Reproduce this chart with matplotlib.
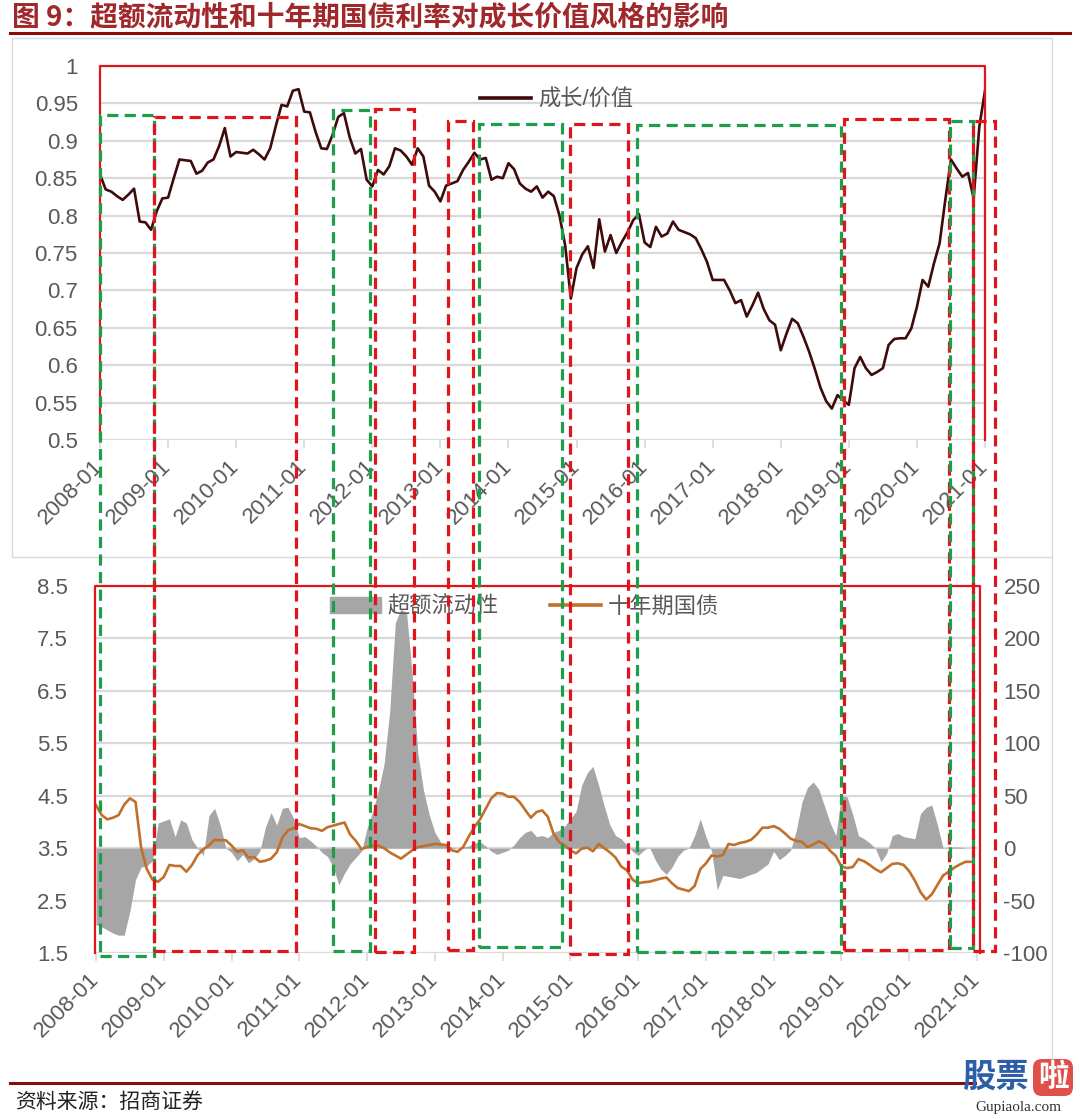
import numpy as np
import matplotlib
matplotlib.use('Agg')
import matplotlib.pyplot as plt
from matplotlib.lines import Line2D
from matplotlib.patches import Rectangle, Patch, FancyBboxPatch

plt.rcParams['font.family'] = ['Liberation Sans', 'Noto Sans CJK SC', 'DejaVu Sans']
plt.rcParams['axes.unicode_minus'] = False

# ---------------------------------------------------------------
# data (monthly, 2008-01 ...)
# ---------------------------------------------------------------
tick_labels = ['2008-01', '2009-01', '2010-01', '2011-01', '2012-01', '2013-01', '2014-01',
               '2015-01', '2016-01', '2017-01', '2018-01', '2019-01', '2020-01', '2021-01']

# 成长/价值 (2008-01 .. 2021-01)
growth_value = [
    0.855, 0.835, 0.832, 0.826, 0.821, 0.828, 0.836, 0.792, 0.791, 0.781, 0.806, 0.823,
    0.824, 0.850, 0.875, 0.874, 0.873, 0.856, 0.860, 0.871, 0.875, 0.893, 0.917, 0.879,
    0.885, 0.884, 0.883, 0.888, 0.882, 0.875, 0.890, 0.920, 0.948, 0.946, 0.967, 0.969,
    0.939, 0.938, 0.912, 0.890, 0.889, 0.908, 0.932, 0.937, 0.905, 0.883, 0.889, 0.848,
    0.839, 0.861, 0.855, 0.866, 0.890, 0.887, 0.879, 0.868, 0.890, 0.879, 0.840, 0.832,
    0.819, 0.840, 0.843, 0.846, 0.861, 0.872, 0.884, 0.875, 0.877, 0.848, 0.852, 0.850,
    0.870, 0.862, 0.843, 0.836, 0.832, 0.839, 0.824, 0.832, 0.826, 0.800, 0.760, 0.689,
    0.730, 0.748, 0.759, 0.730, 0.795, 0.752, 0.774, 0.750, 0.765, 0.778, 0.794, 0.802,
    0.764, 0.758, 0.785, 0.772, 0.776, 0.792, 0.781, 0.778, 0.775, 0.770, 0.755, 0.738,
    0.714, 0.714, 0.714, 0.700, 0.683, 0.687, 0.665, 0.680, 0.697, 0.675, 0.660, 0.654,
    0.620, 0.642, 0.662, 0.656, 0.638, 0.618, 0.595, 0.570, 0.552, 0.542, 0.560, 0.553,
    0.547, 0.596, 0.611, 0.596, 0.587, 0.591, 0.596, 0.627, 0.635, 0.636, 0.636, 0.649,
    0.678, 0.714, 0.705, 0.736, 0.763, 0.821, 0.875, 0.863, 0.852, 0.857, 0.823, 0.919,
    0.967,
]

# 超额流动性 (right axis)
excess_liquidity = [
    -73, -75, -78, -81, -83, -83, -60, -30, -18, -17, -12, 24,
    26, 28, 11, 27, 24, 8, 0, -7, 31, 38, 22, 0,
    -4, -12, -6, -14, -10, -3, 20, 34, 22, 38, 39, 28,
    10, 11, 7, 2, -4, -8, -18, -35, -24, -15, -9, -3,
    19, 35, 55, 80, 130, 215, 228, 224, 165, 90, 55, 32,
    15, 6, 2, 1, 0, 1, 2, 5, 6, 2, -3, -6,
    -4, -2, 3, 10, 15, 17, 11, 12, 10, 15, 17, 21,
    28, 35, 60, 72, 78, 60, 40, 22, 12, 9, 3, -3,
    -7, -2, 1, -11, -20, -25, -18, -8, -2, 0, 12, 28,
    11, -3, -40, -26, -27, -28, -29, -27, -25, -23, -19, -15,
    -3, -11, -7, -2, 17, 44, 58, 63, 56, 40, 24, 12,
    50, 49, 32, 12, 9, 5, 0, -13, -5, 12, 14, 11,
    10, 9, 33, 39, 41, 22, 0, 1, 1, 1, 0, 0,
]

# 十年期国债 (left axis)
bond_10y = [
    4.32, 4.13, 4.05, 4.08, 4.13, 4.33, 4.45, 4.38, 3.50, 3.10, 2.90, 2.86,
    2.95, 3.18, 3.16, 3.16, 3.05, 3.18, 3.37, 3.48, 3.55, 3.66, 3.65, 3.65,
    3.55, 3.43, 3.46, 3.32, 3.33, 3.24, 3.26, 3.30, 3.42, 3.70, 3.84, 3.88,
    3.96, 3.92, 3.88, 3.87, 3.83, 3.90, 3.93, 3.96, 3.99, 3.76, 3.64, 3.48,
    3.52, 3.54, 3.55, 3.50, 3.42, 3.36, 3.30, 3.38, 3.46, 3.52, 3.54, 3.56,
    3.58, 3.57, 3.56, 3.46, 3.43, 3.52, 3.72, 3.90, 4.05, 4.25, 4.45, 4.55,
    4.54, 4.48, 4.48, 4.38, 4.23, 4.08, 4.19, 4.22, 4.10, 3.78, 3.62, 3.55,
    3.46, 3.40, 3.49, 3.51, 3.44, 3.58, 3.50, 3.42, 3.32, 3.15, 3.08, 2.90,
    2.83, 2.85, 2.86, 2.89, 2.92, 2.94, 2.83, 2.74, 2.71, 2.68, 2.78, 3.10,
    3.21, 3.36, 3.34, 3.37, 3.58, 3.56, 3.60, 3.62, 3.66, 3.76, 3.89, 3.89,
    3.92, 3.87, 3.78, 3.68, 3.64, 3.62, 3.52, 3.57, 3.63, 3.58, 3.45, 3.35,
    3.15, 3.12, 3.14, 3.29, 3.25, 3.18, 3.10, 3.04, 3.12, 3.20, 3.21, 3.18,
    3.06, 2.88, 2.66, 2.52, 2.62, 2.80, 2.98, 3.05, 3.13, 3.19, 3.24, 3.24,
]

# highlighted periods: (start month, end month, colour, top level, bottom level)
periods = [
    (0.0, 9.6, 'green', 0.934, 1.44),
    (9.6, 34.6, 'red', 0.932, 1.53),
    (41.1, 47.6, 'green', 0.941, 1.54),
    (48.5, 55.3, 'red', 0.943, 1.52),
    (61.4, 65.7, 'red', 0.927, 1.55),
    (66.8, 81.4, 'green', 0.922, 1.62),
    (82.8, 93.1, 'red', 0.922, 1.49),
    (94.7, 130.7, 'green', 0.921, 1.51),
    (131.2, 149.7, 'red', 0.929, 1.55),
    (149.8, 153.9, 'green', 0.926, 1.59),
    (153.9, 157.7, 'red', 0.926, 1.53),
]

# ---------------------------------------------------------------
# figure
# ---------------------------------------------------------------
W, H = 1080, 1119
fig = plt.figure(figsize=(W / 100, H / 100), dpi=100)
fig.patch.set_facecolor('white')


def px_box(x0, y0, x1, y1):
    return [x0 / W, 1 - y1 / H, (x1 - x0) / W, (y1 - y0) / H]


RED = '#E0151B'
GREEN = '#1E9E4A'
LINE_DARK = '#3F0A0A'
ORANGE = '#C0702A'
AREA = '#A6A6A6'
GRID = '#D9D9D9'
TXT = '#595959'
TITLE_RED = '#A0282A'

tick_pos = np.arange(0, 12 * len(tick_labels), 12)

# --- top panel ---
ax1 = fig.add_axes(px_box(100, 66, 985, 440))
x_top = np.arange(len(growth_value))
ax1.plot(x_top, growth_value, color=LINE_DARK, lw=1.9, zorder=3)
ax1.set_xlim(0, 156)
ax1.set_ylim(0.5, 1.0)
yt = np.round(np.arange(0.5, 1.0001, 0.05), 2)
ax1.set_yticks(yt)
ax1.set_yticklabels([f'{v:g}' for v in yt])
ax1.grid(axis='y', color=GRID, lw=1.6)
ax1.set_axisbelow(True)
for s in ax1.spines.values():
    s.set_visible(False)
ax1.set_xticks(tick_pos)
ax1.set_xticklabels(tick_labels, rotation=45, ha='right', va='center', rotation_mode='anchor')
ax1.tick_params(axis='y', length=0, pad=16, labelsize=16, labelcolor=TXT)
ax1.tick_params(axis='x', length=6, width=1.2, color=GRID, pad=11, labelsize=16, labelcolor=TXT)
ax1.patch.set_visible(False)
# solid frame
ax1.plot([0, 0, 156, 156], [0.5, 1.0, 1.0, 0.5], color=RED, lw=1.6, clip_on=False, zorder=4)

# --- bottom panel ---
axL = fig.add_axes(px_box(96, 586, 977, 953))
axR = axL.twinx()
x_bot = np.arange(len(bond_10y))
axR.fill_between(np.arange(len(excess_liquidity)), 0, excess_liquidity, color=AREA, lw=0, zorder=2)
axL.plot(x_bot, bond_10y, color=ORANGE, lw=1.9, zorder=3)
axL.set_zorder(axR.get_zorder() + 1)
axL.patch.set_visible(False)
axL.set_xlim(0, 156)
axL.set_ylim(1.5, 8.5)
axR.set_ylim(-100, 250)
axL.set_yticks(np.arange(1.5, 8.51, 1.0))
axL.set_yticklabels([f'{v:g}' for v in np.arange(1.5, 8.51, 1.0)])
axR.set_yticks(np.arange(-100, 251, 50))
axR.grid(axis='y', color=GRID, lw=1.6)
axR.set_axisbelow(True)
for a in (axL, axR):
    for s in a.spines.values():
        s.set_visible(False)
axL.set_xticks(tick_pos)
axL.set_xticklabels(tick_labels, rotation=45, ha='right', va='center', rotation_mode='anchor')
axL.tick_params(axis='y', length=0, pad=20, labelsize=16, labelcolor=TXT)
axR.tick_params(axis='y', length=0, pad=19, labelsize=16, labelcolor=TXT)
axL.tick_params(axis='x', length=6, width=1.2, color=GRID, pad=11, labelsize=16, labelcolor=TXT)
axL.plot([-0.2, -0.2, 156.5, 156.5], [1.5, 8.5, 8.5, 1.5], color=RED, lw=1.6, clip_on=False, zorder=4)

# --- dashed period boxes spanning both panels ---
to_fig = fig.transFigure.inverted()
for m0, m1, col, top, bot in periods:
    fx0, fy_top = to_fig.transform(ax1.transData.transform((m0, top)))
    fx1, _ = to_fig.transform(ax1.transData.transform((m1, top)))
    _, fy_bot = to_fig.transform(axL.transData.transform((0, bot)))
    fig.add_artist(Rectangle((fx0, fy_bot), fx1 - fx0, fy_top - fy_bot,
                             transform=fig.transFigure, fill=False,
                             ec=RED if col == 'red' else GREEN,
                             lw=2.3, ls=(0, (3.5, 2.0)), zorder=10))

# --- legends ---
fig.legend([Line2D([], [], color=LINE_DARK, lw=2.6)], ['成长/价值'],
           loc='center left', bbox_to_anchor=(480 / W, 1 - 100 / H), frameon=False,
           fontsize=16, handlelength=2.3, handletextpad=0.3, borderpad=0, borderaxespad=0,
           labelcolor=TXT)
fig.legend([Patch(color=AREA), Line2D([], [], color=ORANGE, lw=2.6)], ['超额流动性', '十年期国债'],
           loc='center left', bbox_to_anchor=(330 / W, 1 - 607 / H), frameon=False, ncol=2,
           fontsize=16, handlelength=2.3, handletextpad=0.3, columnspacing=2.3,
           borderpad=0, borderaxespad=0, labelcolor=TXT)

# --- chart frames ---
fig.add_artist(Rectangle((12 / W, 1 - 557 / H), 1040 / W, 519 / H, transform=fig.transFigure,
                         fill=False, ec=GRID, lw=1.0, zorder=1))
fig.add_artist(Line2D([1052 / W, 1052 / W], [1 - 557 / H, 1 - 1075 / H], transform=fig.transFigure,
                      color=GRID, lw=1.0))

# --- title, rules, source ---
fig.text(12 / W, 1 - 17 / H, '图 9：超额流动性和十年期国债利率对成长价值风格的影响',
         fontsize=20, fontweight='bold', color=TITLE_RED, va='center', ha='left',
         family=['Noto Sans CJK SC', 'DejaVu Sans'])
fig.add_artist(Line2D([10 / W, 1070 / W], [1 - 33 / H, 1 - 33 / H], transform=fig.transFigure,
                      color='#8B0A0A', lw=2.2))
fig.add_artist(Line2D([10 / W, 975 / W], [1 - 1083 / H, 1 - 1083 / H], transform=fig.transFigure,
                      color='#8B0A0A', lw=2.2))
fig.text(15 / W, 1 - 1102 / H, '资料来源：招商证券', fontsize=15, color='#222222',
         va='center', ha='left', family=['Noto Sans CJK SC', 'DejaVu Sans'])

# watermark
fig.text(962 / W, 1 - 1077 / H, '股票', fontsize=24, fontweight='bold', color='#2C5FA8',
         va='center', ha='left', family=['Noto Sans CJK SC', 'DejaVu Sans'])
fig.add_artist(FancyBboxPatch((1033 / W, 1 - 1096 / H), 40 / W, 37 / H,
                              boxstyle='round,pad=0,rounding_size=0.008',
                              transform=fig.transFigure, fc='#E0504A', ec='none'))
fig.text(1053 / W, 1 - 1077 / H, '啦', fontsize=22, fontweight='bold', color='white',
         va='center', ha='center', family=['Noto Sans CJK SC', 'DejaVu Sans'])
fig.text(1018 / W, 1 - 1108 / H, 'Gupiaola.com', fontsize=11, color='#333333',
         va='center', ha='center', family=['Liberation Serif', 'DejaVu Serif'])

fig.savefig('out.png', dpi=100, facecolor='white')
